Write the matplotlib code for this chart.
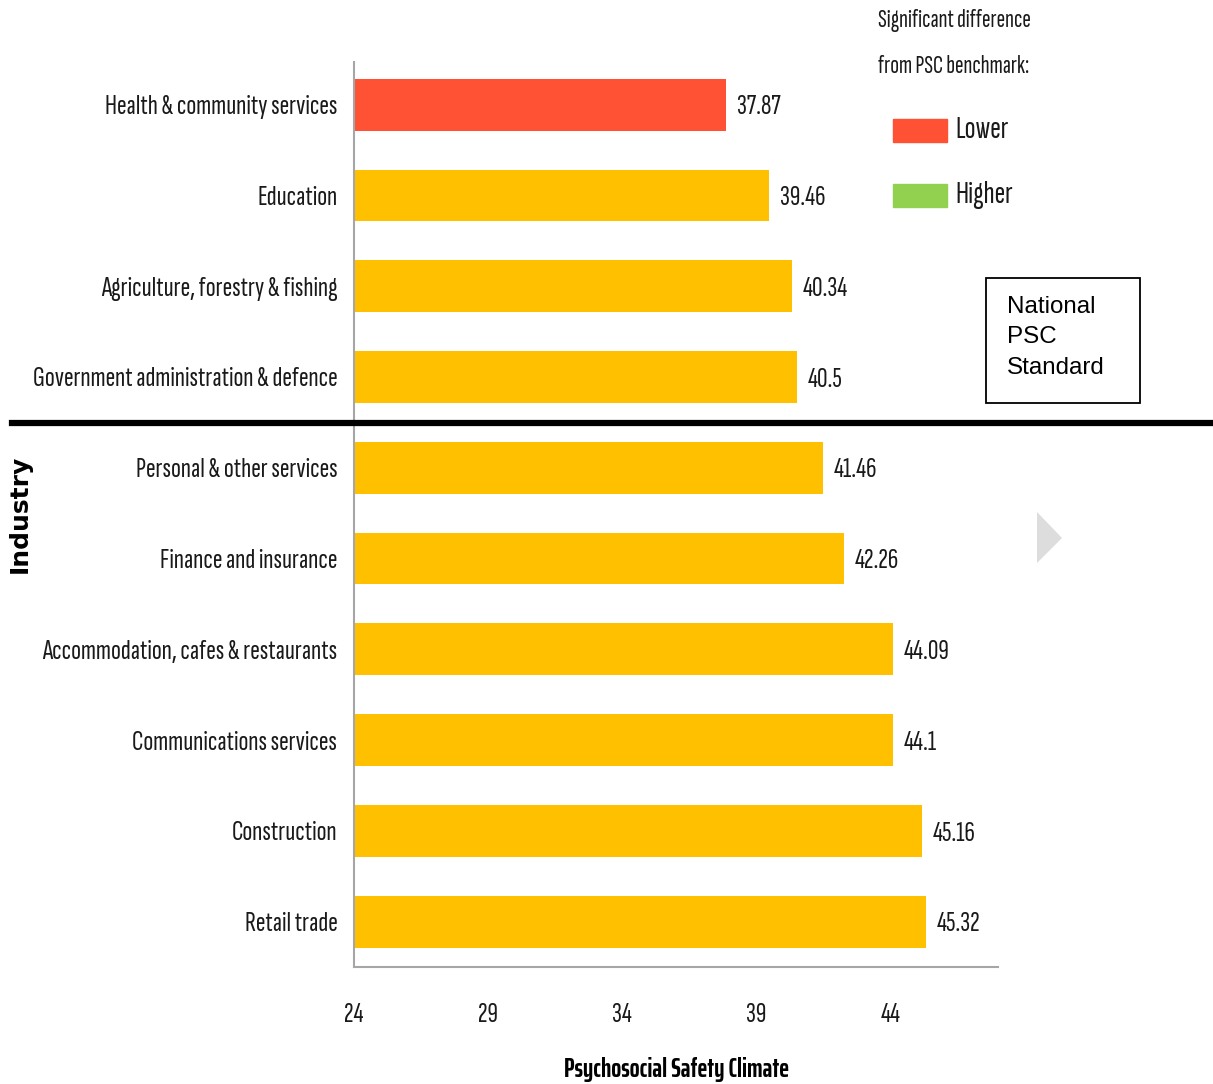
import numpy as np
import matplotlib.pyplot as plt
from matplotlib.transforms import blended_transform_factory
from matplotlib.patches import Rectangle, Polygon

industries = [
    "Health & community services",
    "Education",
    "Agriculture, forestry & fishing",
    "Government administration & defence",
    "Personal & other services",
    "Finance and insurance",
    "Accommodation, cafes & restaurants",
    "Communications services",
    "Construction",
    "Retail trade",
]
psc = [37.87, 39.46, 40.34, 40.5, 41.46, 42.26, 44.09, 44.1, 45.16, 45.32]
value_labels = ["37.87", "39.46", "40.34", "40.5", "41.46", "42.26", "44.09", "44.1", "45.16", "45.32"]
significance = ["Lower", None, None, None, None, None, None, None, None, None]
x_ticks = [24, 29, 34, 39, 44]

ORANGE = "#FFC000"
RED = "#FF5133"
GREEN = "#92D050"
sig_colors = {"Lower": RED, "Higher": GREEN}

NARROW = ["Sofia Sans Extra Condensed", "DejaVu Sans"]
NARROW_BOLD = ["Saira ExtraCondensed", "DejaVu Sans"]
ARIAL = ["Liberation Sans", "DejaVu Sans"]
TXT = "#1a1a1a"

fig = plt.figure(figsize=(12.13, 10.84), dpi=100)
ax = fig.add_axes([0.2918, 0.1079, 0.5310, 0.8349])

y = np.arange(len(industries))
colors = [sig_colors.get(s, ORANGE) for s in significance]
ax.barh(y, psc, left=0, height=0.57, color=colors, zorder=2)

ax.set_xlim(24, 48)
ax.set_ylim(9.5, -0.47)

for yi, v, lab in zip(y, psc, value_labels):
    ax.text(v + 0.4, yi + 0.03, lab, va="center", ha="left", fontsize=21,
            family=NARROW, color=TXT)

ax.set_yticks(y)
ax.set_yticklabels(industries, family=NARROW, fontsize=21, color=TXT)
ax.tick_params(axis="y", length=0, pad=12)
ax.set_xticks(x_ticks)
ax.set_xticklabels([str(t) for t in x_ticks], family=NARROW, fontsize=21, color=TXT)
ax.tick_params(axis="x", length=0, pad=26)

for side in ["top", "right"]:
    ax.spines[side].set_visible(False)
for side in ["left", "bottom"]:
    ax.spines[side].set_color("#A6A6A6")
    ax.spines[side].set_linewidth(1.5)

ax.set_xlabel("Psychosocial Safety Climate", family=NARROW_BOLD, fontsize=19,
              fontweight="bold", color="black", va="center")
ax.xaxis.set_label_coords(0.5, -0.113)

fig.text(0.016, 0.526, "Industry", rotation=90, ha="center", va="center",
         family=["DejaVu Sans"], fontsize=18, fontweight="bold")

# benchmark divider between the two groups
tr = blended_transform_factory(fig.transFigure, ax.transData)
ax.plot([0.01, 1.0], [3.51, 3.51], color="black", lw=4.5, transform=tr,
        clip_on=False, zorder=5)

# significance key
fig.text(0.724, 0.981, "Significant difference", family=NARROW, fontsize=18.5,
         va="center", ha="left", color=TXT)
fig.text(0.724, 0.939, "from PSC benchmark:", family=NARROW, fontsize=18.5,
         va="center", ha="left", color=TXT)
for yy, name in [(0.880, "Lower"), (0.820, "Higher")]:
    fig.patches.append(Rectangle((0.736, yy - 0.011), 0.045, 0.021,
                                 transform=fig.transFigure,
                                 color=sig_colors[name]))
    fig.text(0.788, yy, name, family=NARROW, fontsize=23, va="center",
             ha="left", color=TXT)

fig.text(0.830, 0.689, "National\nPSC\nStandard", family=ARIAL, fontsize=17.4,
         va="center", ha="left", linespacing=1.5)
fig.patches.append(Rectangle((0.8129, 0.6282), 0.127, 0.1153,
                             transform=fig.transFigure, fill=False,
                             edgecolor="black", lw=1.3))

# grey pointer on the right
fig.patches.append(Polygon([(1037 / 1213, 1 - 512 / 1084),
                            (1062 / 1213, 1 - 538 / 1084),
                            (1037 / 1213, 1 - 563 / 1084)],
                           closed=True, transform=fig.transFigure,
                           facecolor="#DDDDDD", edgecolor="none"))

fig.savefig("out.png", dpi=100)
